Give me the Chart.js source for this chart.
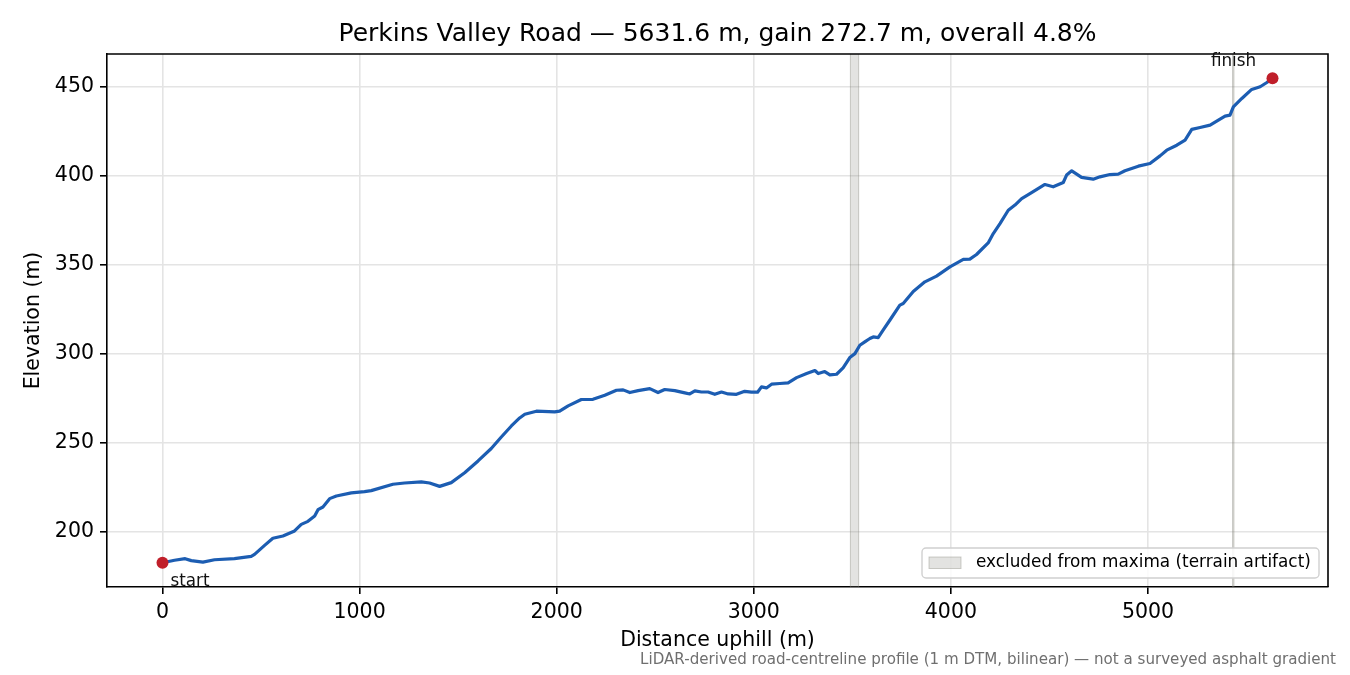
<!DOCTYPE html>
<html><head><meta charset="utf-8">
<script src="https://cdn.jsdelivr.net/npm/chart.js@4.4.1/dist/chart.umd.min.js"></script>
<style>html,body{margin:0;padding:0;background:#fff;overflow:hidden}#wrap{width:1350px;height:675px}</style>
</head><body><div id="wrap"><canvas id="c" width="1350" height="675"></canvas></div>
<script>
const distance = [0,61,115,146,205,264,365,450,467,518,560,611,670,704,738,772,789,814,848,882,958,1025,1059,1169,1228,1313,1355,1406,1465,1533,1601,1668,1719,1770,1812,1838,1897,1990,2015,2058,2125,2184,2244,2303,2337,2371,2413,2472,2514,2548,2599,2650,2675,2701,2734,2768,2802,2836,2870,2912,2954,2988,3019,3039,3064,3090,3132,3174,3217,3268,3310,3327,3360,3386,3420,3453,3487,3513,3538,3563,3589,3606,3631,3656,3690,3741,3758,3809,3868,3927,3995,4063,4096,4130,4189,4215,4249,4291,4325,4359,4401,4477,4519,4570,4587,4613,4663,4722,4756,4807,4849,4883,4951,5010,5061,5095,5146,5188,5222,5264,5315,5357,5391,5416,5433,5476,5526,5569,5603,5631.6];
const elevation = [182.3,183.7,184.6,183.5,182.7,184.0,184.6,185.9,187.0,192.1,196.1,197.4,200.2,203.9,205.6,208.6,212.2,213.7,218.4,219.9,221.6,222.3,222.9,226.5,227.2,227.8,227.2,225.3,227.4,233.0,239.6,246.6,253.1,259.3,263.8,265.9,267.6,267.2,267.6,270.6,274.2,274.3,276.6,279.4,279.6,278.1,279.2,280.3,278.1,279.8,279.2,277.9,277.3,279.0,278.4,278.4,277.1,278.4,277.3,277.1,278.8,278.3,278.3,281.3,280.7,282.8,283.2,283.5,286.5,288.8,290.5,288.8,289.9,288.0,288.4,292.0,297.8,300.0,304.7,306.6,308.5,309.4,309.0,313.2,318.8,327.3,328.2,335.0,340.4,343.6,348.8,353.0,353.2,355.8,362.3,367.6,373.2,380.7,383.6,387.3,390.1,395.2,393.9,396.3,400.5,402.9,399.2,398.2,399.5,400.8,401.0,402.9,405.5,407.0,411.3,414.5,417.3,420.2,426.2,427.3,428.6,431.4,433.7,434.2,438.9,443.6,448.7,450.2,452.6,455.0];
const xTicks = [0,1000,2000,3000,4000,5000];
const yTicks = [200,250,300,350,400,450];
const excludedFrom = [3490, 5429];
const excludedTo = [3532, 5436];
const titleText = 'Perkins Valley Road — 5631.6 m, gain 272.7 m, overall 4.8%';
const xLabel = 'Distance uphill (m)';
const yLabel = 'Elevation (m)';
const legendText = 'excluded from maxima (terrain artifact)';
const footText = 'LiDAR-derived road-centreline profile (1 m DTM, bilinear) — not a surveyed asphalt gradient';
const endLabels = ['start', 'finish'];

const FONT = "'DejaVu Sans', sans-serif";
const spanFill = 'rgba(128,128,118,0.22)';
const spanEdge = 'rgba(128,128,118,0.38)';

const xmin0 = Math.min(...distance), xmax0 = Math.max(...distance);
const ymin0 = Math.min(...elevation), ymax0 = Math.max(...elevation);
const xm = (xmax0 - xmin0) * 0.05, ym = (ymax0 - ymin0) * 0.05;

const profile = distance.map((d, i) => ({x: d, y: elevation[i]}));
const last = distance.length - 1;
const ends = [{x: distance[0], y: elevation[0]}, {x: distance[last], y: elevation[last]}];

const deco = {
  id: 'deco',
  beforeDatasetsDraw(chart) {
    const {ctx, chartArea: a, scales: {x}} = chart;
    ctx.save();
    ctx.beginPath(); ctx.rect(a.left, a.top, a.right - a.left, a.bottom - a.top); ctx.clip();
    for (let i = 0; i < excludedFrom.length; i++) {
      const x0 = x.getPixelForValue(excludedFrom[i]), x1 = x.getPixelForValue(excludedTo[i]);
      ctx.fillStyle = spanFill;
      ctx.fillRect(x0, a.top, x1 - x0, a.bottom - a.top);
      ctx.strokeStyle = spanEdge; ctx.lineWidth = 1;
      ctx.strokeRect(x0, a.top - 2, x1 - x0, a.bottom - a.top + 4);
    }
    ctx.restore();
  },
  afterDraw(chart) {
    const {ctx, chartArea: a, scales: {x, y}} = chart;
    ctx.save();
    ctx.strokeStyle = '#000'; ctx.lineWidth = 1.6;
    ctx.beginPath();
    ctx.moveTo(a.left, a.top); ctx.lineTo(a.right, a.top); ctx.lineTo(a.right, a.bottom);
    ctx.stroke();
    ctx.fillStyle = '#000';
    ctx.font = '25px ' + FONT; ctx.textAlign = 'center'; ctx.textBaseline = 'middle';
    ctx.fillText(titleText, (a.left + a.right) / 2, 34);
    ctx.font = '16.8px ' + FONT;
    const sx = x.getPixelForValue(ends[0].x), sy = y.getPixelForValue(ends[0].y);
    ctx.textAlign = 'left'; ctx.fillStyle = '#111';
    ctx.fillText(endLabels[0], sx + 8, sy + 19);
    const fx = x.getPixelForValue(ends[1].x), fy = y.getPixelForValue(ends[1].y);
    ctx.textAlign = 'center';
    ctx.fillText(endLabels[1], fx - 39, fy - 17);
    const lx = 922, ly = 548, lw = 397, lh = 30;
    ctx.beginPath();
    ctx.roundRect(lx, ly, lw, lh, 4);
    ctx.fillStyle = 'rgba(255,255,255,0.85)'; ctx.fill();
    ctx.strokeStyle = '#d0d0d0'; ctx.lineWidth = 1.4; ctx.stroke();
    ctx.fillStyle = spanFill; ctx.fillRect(929, 557, 32, 11.5);
    ctx.strokeStyle = spanEdge; ctx.lineWidth = 1; ctx.strokeRect(929, 557, 32, 11.5);
    ctx.fillStyle = '#000'; ctx.font = '16.85px ' + FONT; ctx.textAlign = 'left'; ctx.textBaseline = 'middle';
    ctx.fillText(legendText, 976, 563);
    ctx.fillStyle = '#6f6f6f'; ctx.font = '15.1px ' + FONT; ctx.textAlign = 'right';
    ctx.fillText(footText, 1336, 660);
    ctx.restore();
  }
};

new Chart(document.getElementById('c'), {
  type: 'line',
  data: {
    datasets: [
      {data: ends, showLine: false, pointRadius: 6, pointHoverRadius: 6, pointBackgroundColor: '#c01f2a', pointBorderColor: '#c01f2a', pointBorderWidth: 0, order: 0},
      {data: profile, borderColor: '#1c5db2', borderWidth: 3.2, pointRadius: 0, tension: 0, fill: false, order: 1, borderJoinStyle: 'round', borderCapStyle: 'round'}
    ]
  },
  options: {
    responsive: false, animation: false, devicePixelRatio: 1,
    layout: {padding: {top: 54, right: 22, left: 0, bottom: 0}},
    plugins: {legend: {display: false}, tooltip: {enabled: false}, title: {display: false}},
    scales: {
      x: {
        type: 'linear', min: xmin0 - xm, max: xmax0 + xm,
        afterBuildTicks: s => { s.ticks = xTicks.map(v => ({value: v})); },
        afterFit: s => { s.height = 88; },
        ticks: {font: {family: FONT, size: 20.5}, color: '#000', padding: 6, maxRotation: 0, autoSkip: false, callback: v => String(v)},
        grid: {color: '#e4e4e4', lineWidth: 1.6, tickLength: 7, tickColor: '#000', tickWidth: 1.6},
        border: {color: '#000', width: 1.6},
        title: {display: true, text: xLabel, color: '#000', font: {family: FONT, size: 20.5}, padding: {top: 0, bottom: 22}}
      },
      y: {
        type: 'linear', min: ymin0 - ym, max: ymax0 + ym,
        afterBuildTicks: s => { s.ticks = yTicks.map(v => ({value: v})); },
        afterFit: s => { s.width = 107; },
        ticks: {font: {family: FONT, size: 20.5}, color: '#000', padding: 6, autoSkip: false, callback: v => String(v)},
        grid: {color: '#e4e4e4', lineWidth: 1.6, tickLength: 7, tickColor: '#000', tickWidth: 1.6},
        border: {color: '#000', width: 1.6},
        title: {display: true, text: yLabel, color: '#000', font: {family: FONT, size: 20.5}, padding: {top: 21, bottom: 0}}
      }
    }
  },
  plugins: [deco]
});
</script></body></html>
